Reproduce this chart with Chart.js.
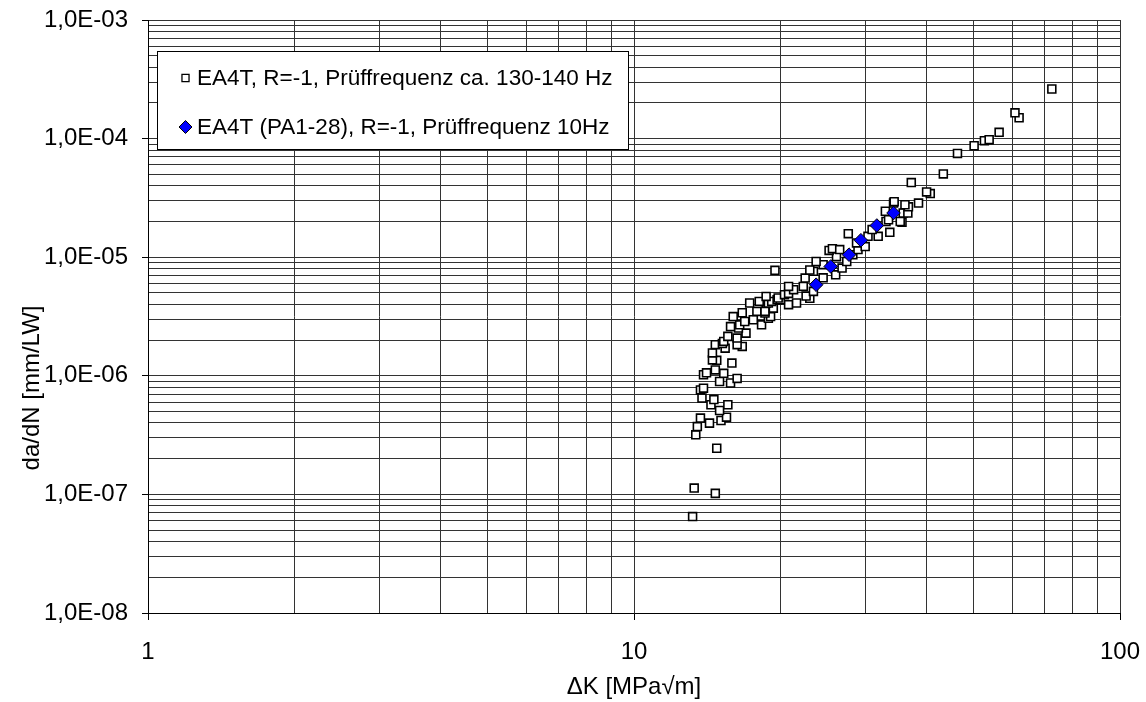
<!DOCTYPE html>
<html>
<head>
<meta charset="utf-8">
<script src="https://cdn.jsdelivr.net/npm/chart.js@4/dist/chart.umd.min.js"></script>
<style>
html,body{margin:0;padding:0;background:#fff;}
#wrap{width:1146px;height:702px;position:relative;}
canvas{display:block;}
</style>
</head>
<body>
<div id="wrap"><canvas id="c" width="1146" height="702" style="width:1146px;height:702px;"></canvas></div>
<script>
// ---- data ----
const seriesNames = [
  'EA4T, R=-1, Prüffrequenz ca. 130-140 Hz',
  'EA4T (PA1-28), R=-1, Prüffrequenz 10Hz'
];
const xAxisTitle = '\u0394K [MPa\u221Am]';
const yAxisTitle = 'da/dN [mm/LW]';

const ea4tDeltaK = [
  13.2, 13.3, 14.7, 14.8, 13.4, 13.5, 14.3, 15.1, 13.7, 15.5,
  15.0, 14.4, 15.6, 14.6, 13.8, 13.7, 13.9, 15.8, 15.0, 16.3,
  13.9, 14.1, 15.3, 14.7, 15.9, 14.8, 14.5, 14.5, 15.4, 16.7,
  14.7, 16.3, 15.2, 15.3, 16.3, 15.6, 17.0, 16.4, 15.8, 16.5,
  18.3, 16.9, 17.6, 18.9, 16.0, 19.1, 16.7, 18.6, 17.9, 18.6,
  19.35, 20.8, 17.3, 18.7, 18.9, 21.6, 18.1, 19.2, 19.7, 20.0,
  23.0, 19.8, 22.6, 18.7, 20.4, 20.8, 23.4, 21.3, 20.8, 22.3,
  22.5, 26.0, 23.4, 19.5, 23.0, 26.8, 24.5, 23.7, 24.5, 27.4,
  26.1, 28.2, 25.2, 25.6, 26.5, 28.9, 29.9, 28.7, 30.3, 31.8,
  27.6, 33.6, 30.9, 35.6, 33.0, 35.3, 33.4, 35.8, 36.6, 32.9,
  36.7, 36.1, 34.2, 38.5, 34.3, 40.7, 40.0, 37.2, 43.3, 46.3,
  50.1, 52.6, 53.8, 56.4, 62.0, 60.8, 72.4
];
const ea4tDaDN = [
  6.5e-8, 1.13e-7, 1.02e-7, 2.45e-7, 3.18e-7, 3.73e-7, 3.99e-7, 4.2e-7, 4.4e-7, 4.48e-7,
  5.1e-7, 5.7e-7, 5.7e-7, 6.3e-7, 6.5e-7, 7.6e-7, 7.87e-7, 8.7e-7, 8.95e-7, 9.5e-7,
  1.02e-6, 1.06e-6, 1.05e-6, 1.12e-6, 1.28e-6, 1.35e-6, 1.36e-6, 1.56e-6, 1.71e-6, 1.77e-6,
  1.83e-6, 1.83e-6, 1.87e-6, 1.95e-6, 2.08e-6, 2.15e-6, 2.29e-6, 2.53e-6, 2.6e-6, 2.69e-6,
  2.69e-6, 2.87e-6, 2.97e-6, 3.05e-6, 3.16e-6, 3.16e-6, 3.4e-6, 3.38e-6, 3.49e-6, 3.49e-6,
  3.72e-6, 3.98e-6, 4.11e-6, 4.11e-6, 4.11e-6, 4.11e-6, 4.24e-6, 4.24e-6, 4.38e-6, 4.38e-6,
  4.5e-6, 4.53e-6, 4.7e-6, 4.67e-6, 4.83e-6, 4.95e-6, 5.15e-6, 5.32e-6, 5.67e-6, 5.67e-6,
  6.67e-6, 7.1e-6, 7.6e-6, 7.75e-6, 7.8e-6, 8.1e-6, 8.65e-6, 9.2e-6, 6.7e-6, 9.2e-6,
  1.01e-5, 1.05e-5, 1.14e-5, 1.18e-5, 1.16e-5, 1.16e-5, 1.23e-5, 1.32e-5, 1.5e-5, 1.5e-5,
  1.58e-5, 1.62e-5, 1.71e-5, 1.97e-5, 2.0e-5, 2.0e-5, 2.07e-5, 2.36e-5, 2.36e-5, 2.44e-5,
  2.66e-5, 2.77e-5, 2.86e-5, 2.86e-5, 2.94e-5, 3.44e-5, 3.55e-5, 4.26e-5, 5.04e-5, 7.5e-5,
  8.7e-5, 9.6e-5, 9.8e-5, 1.13e-4, 1.5e-4, 1.65e-4, 2.62e-4
];
const pa128DeltaK = [23.7, 25.4, 27.7, 29.3, 31.6, 34.2];
const pa128DaDN   = [5.86e-6, 8.36e-6, 1.05e-5, 1.39e-5, 1.85e-5, 2.36e-5];

const xTickValues = [1, 10, 100];
const xTickLabels = ['1', '10', '100'];
const yTickValues = [1e-8, 1e-7, 1e-6, 1e-5, 1e-4, 1e-3];
const yTickLabels = ['1,0E-08', '1,0E-07', '1,0E-06', '1,0E-05', '1,0E-04', '1,0E-03'];

// ---- helpers ----
const FONT = '"Liberation Sans", Arial, Helvetica, sans-serif';
function isMajor(v, majors) {
  return majors.some(m => Math.abs(Math.log10(v) - Math.log10(m)) < 1e-6);
}
function labelFor(v, vals, labels) {
  for (let i = 0; i < vals.length; i++) {
    if (Math.abs(Math.log10(v) - Math.log10(vals[i])) < 1e-6) return labels[i];
  }
  return '';
}
function logGridTicks(majors) {
  const out = [];
  for (let i = 0; i < majors.length; i++) {
    out.push({value: majors[i]});
    if (i < majors.length - 1) {
      for (let k = 2; k <= 9; k++) out.push({value: majors[i] * k});
    }
  }
  return out;
}

const ea4tPoints = ea4tDeltaK.map((x, i) => ({x: x, y: ea4tDaDN[i]}));
const pa128Points = pa128DeltaK.map((x, i) => ({x: x, y: pa128DaDN[i]}));

// custom legend box inside plot + rotated y title
const boxLegend = {
  id: 'boxLegend',
  afterDatasetsDraw(chart) {
    const ctx = chart.ctx;
    const ds = chart.data.datasets;
    ctx.save();
    ctx.fillStyle = '#fff';
    ctx.strokeStyle = '#000';
    ctx.lineWidth = 1;
    ctx.fillRect(157.5, 51.5, 471, 98);
    ctx.strokeRect(157.5, 51.5, 471, 98);
    const rows = [78, 127];
    const legendRadius = [5, 6.5];
    for (let r = 0; r < 2; r++) {
      const d = ds[r];
      ctx.fillStyle = d.pointBackgroundColor;
      ctx.strokeStyle = d.pointBorderColor;
      ctx.lineWidth = r === 0 ? 1.3 : 1;
      Chart.helpers.drawPoint(ctx, {pointStyle: d.pointStyle, radius: legendRadius[r], rotation: 0, borderWidth: ctx.lineWidth}, 185.5, rows[r]);
      ctx.fillStyle = '#000';
      ctx.font = '22.5px ' + FONT;
      ctx.textAlign = 'left';
      ctx.textBaseline = 'middle';
      ctx.fillText(d.label, 197, rows[r] + 1);
    }
    ctx.restore();
  },
  afterDraw(chart) {
    const ctx = chart.ctx;
    ctx.save();
    ctx.translate(32, 388);
    ctx.rotate(-Math.PI / 2);
    ctx.fillStyle = '#000';
    ctx.font = '24px ' + FONT;
    ctx.textAlign = 'center';
    ctx.textBaseline = 'middle';
    ctx.fillText(yAxisTitle, 0, 0);
    ctx.restore();
  }
};

const GRID = '#333333';

new Chart(document.getElementById('c'), {
  type: 'scatter',
  data: {
    datasets: [
      {
        label: seriesNames[0],
        data: ea4tPoints,
        pointStyle: 'rect',
        pointRadius: 5.6,
        pointHoverRadius: 5.6,
        pointBackgroundColor: '#ffffff',
        pointBorderColor: '#000000',
        pointBorderWidth: 1.6,
        order: 2
      },
      {
        label: seriesNames[1],
        data: pa128Points,
        pointStyle: 'rectRot',
        pointRadius: 6.8,
        pointHoverRadius: 6.8,
        pointBackgroundColor: '#0000ff',
        pointBorderColor: '#000000',
        pointBorderWidth: 1,
        order: 1
      }
    ]
  },
  options: {
    responsive: false,
    maintainAspectRatio: false,
    animation: false,
    devicePixelRatio: 1,
    events: [],
    layout: {padding: {left: 0, top: 20, right: 26, bottom: 0}},
    plugins: {
      legend: {display: false},
      tooltip: {enabled: false}
    },
    scales: {
      x: {
        type: 'logarithmic',
        min: 1, max: 100,
        afterBuildTicks: s => { s.ticks = logGridTicks(xTickValues); },
        afterFit: s => { s.height = 89; s.paddingLeft = 0; s.paddingRight = 0; },
        border: {display: true, color: '#000', width: 1},
        grid: {
          color: GRID, lineWidth: 1, drawTicks: true, tickLength: 7,
          tickColor: c => (c.tick && isMajor(c.tick.value, xTickValues)) ? '#000' : 'rgba(0,0,0,0)'
        },
        ticks: {
          autoSkip: false, maxRotation: 0, padding: 18,
          color: '#000', font: {family: FONT, size: 24},
          callback: v => labelFor(v, xTickValues, xTickLabels)
        },
        title: {display: true, text: xAxisTitle, color: '#000', font: {family: FONT, size: 24}, padding: {top: 0, bottom: 0}}
      },
      y: {
        type: 'logarithmic',
        min: 1e-8, max: 1e-3,
        afterBuildTicks: s => { s.ticks = logGridTicks(yTickValues); },
        afterFit: s => { s.width = 148; s.paddingTop = 0; s.paddingBottom = 0; },
        border: {display: true, color: '#000', width: 1},
        grid: {
          color: GRID, lineWidth: 1, drawTicks: true, tickLength: 6,
          tickColor: c => (c.tick && isMajor(c.tick.value, yTickValues)) ? '#000' : 'rgba(0,0,0,0)'
        },
        ticks: {
          autoSkip: false, padding: 14,
          color: '#000', font: {family: FONT, size: 24},
          callback: v => labelFor(v, yTickValues, yTickLabels)
        }
      }
    }
  },
  plugins: [boxLegend]
});
</script>
</body>
</html>
